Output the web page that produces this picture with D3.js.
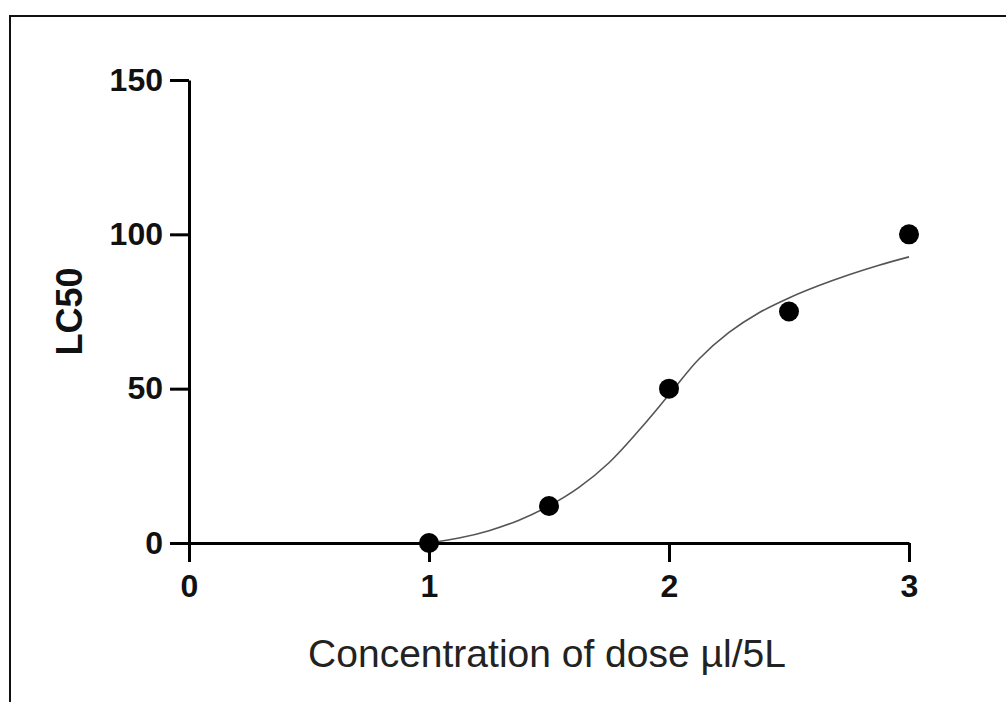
<!DOCTYPE html>
<html>
<head>
<meta charset="utf-8">
<script src="https://cdn.jsdelivr.net/npm/d3@7"></script>
<style>
  html, body { margin: 0; padding: 0; background: #fff; }
  svg { display: block; }
</style>
</head>
<body>
<div id="chart"></div>
<script>
// observed points
const doses = [1, 1.5, 2, 2.5, 3]
const lc50 = [0, 12, 50, 75, 100]

// fitted curve
const curveX = [1, 1.125, 1.25, 1.375, 1.5, 1.625, 1.75, 1.875, 2, 2.125, 2.25, 2.375, 2.5, 2.625, 2.75, 2.875, 3]
const curveY = [0, 1.6, 4.0, 7.4, 12, 18, 26, 36.5, 48, 59.6, 68.2, 74.6, 79.4, 83.4, 86.9, 90.0, 92.7]

const xTicks = [0, 1, 2, 3]
const yTicks = [0, 50, 100, 150]

const width = 1006
const height = 702

let margins = {
  top: 80,
  left: 189,
  right: 97,
  bottom: 159
}

const svg = d3.select('#chart').append('svg')
  .attr('width', width)
  .attr('height', height)

// frame (only left and top edges are inside the picture)
svg.append('path')
  .attr('d', `M10,${height}V16H${width}`)
  .attr('fill', 'none')
  .attr('stroke', '#111')
  .attr('stroke-width', 2)

let x = d3.scaleLinear()
  .domain([0, 3])
  .range([margins.left, width - margins.right])

let y = d3.scaleLinear()
  .domain([0, 150])
  .range([height - margins.bottom, margins.top])

let xAxis = svg.append('g')
  .attr('transform', 'translate(0,' + y(0) + ')')
  .call(d3.axisBottom(x).tickValues(xTicks).tickFormat(d3.format('d'))
    .tickSize(19).tickPadding(12).tickSizeOuter(0))

let yAxis = svg.append('g')
  .attr('transform', 'translate(' + x(0) + ',0)')
  .call(d3.axisLeft(y).tickValues(yTicks).tickFormat(d3.format('d'))
    .tickSize(19).tickPadding(7).tickSizeOuter(0))

;[xAxis, yAxis].forEach(a => {
  a.select('.domain').attr('stroke', '#000').attr('stroke-width', 3)
  a.selectAll('.tick line').attr('stroke', '#000').attr('stroke-width', 3)
  a.selectAll('.tick text')
    .attr('fill', '#111')
    .style('font-family', '"Liberation Sans", Arial, sans-serif')
    .style('font-weight', 'bold')
    .style('font-size', '32px')
})

// fitted curve
let fit = d3.line()
  .x((d, i) => x(curveX[i]))
  .y(d => y(d))
  .curve(d3.curveCatmullRom)

svg.append('path')
  .datum(curveY)
  .attr('d', fit)
  .attr('fill', 'none')
  .attr('stroke', '#555')
  .attr('stroke-width', 1.6)

svg.append('g')
  .selectAll('circle')
  .data(lc50)
  .enter()
  .append('circle')
  .attr('cx', (d, i) => x(doses[i]))
  .attr('cy', d => y(d))
  .attr('r', 10)
  .attr('fill', '#000')

// axis titles
svg.append('text')
  .attr('x', 547)
  .attr('y', 667)
  .attr('text-anchor', 'middle')
  .style('font-family', '"Liberation Sans", Arial, sans-serif')
  .style('font-size', '39px')
  .attr('fill', '#222')
  .text('Concentration of dose µl/5L')

svg.append('text')
  .attr('transform', 'translate(82,' + y(75) + ') rotate(-90)')
  .attr('text-anchor', 'middle')
  .style('font-family', '"Liberation Sans", Arial, sans-serif')
  .style('font-weight', 'bold')
  .style('font-size', '36px')
  .attr('fill', '#111')
  .text('LC50')
</script>
</body>
</html>
